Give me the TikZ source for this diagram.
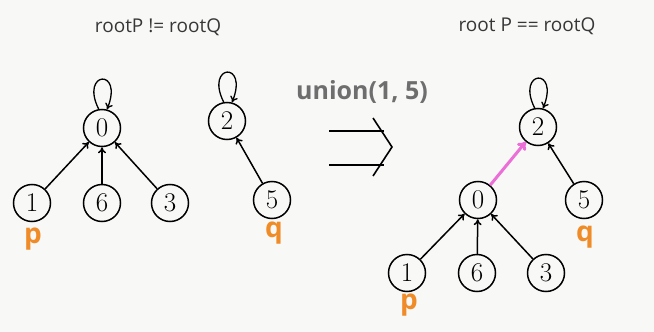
\documentclass[tikz,border=0pt]{standalone}
\usepackage{fontspec}
\newfontfamily\labelfont{Open Sans}
\usetikzlibrary{arrows.meta}
\definecolor{bgpaper}{RGB}{248,248,247}
\definecolor{titlegray}{RGB}{55,55,55}
\definecolor{uniongray}{RGB}{110,110,110}
\definecolor{markorange}{RGB}{240,140,40}
\definecolor{linkpink}{RGB}{236,110,215}
\begin{document}
\begin{tikzpicture}[x=1pt,y=-1pt,
  elem/.style={draw,circle,line width=1.5pt,minimum size=37pt,inner sep=0pt,font=\fontsize{27}{27}\selectfont},
  parent/.style={-{To[length=6pt,width=8pt]},line width=1.5pt},
  selfloop/.style={-{To[length=6pt,width=8pt]},line width=1.3pt},
  marker/.style={text=markorange,font=\labelfont\bfseries\fontsize{28}{28}\selectfont},
  heading/.style={text=titlegray,font=\labelfont\fontsize{19}{20}\selectfont},
  newlink/.style={-{To[length=8pt,width=11pt]},line width=3pt,draw=linkpink}]
\fill[bgpaper] (0,0) rectangle (654,332);
\useasboundingbox (0,0) rectangle (654,332);

% before the union: two separate trees
\node[heading] (t1) at (158,27) {rootP != rootQ};
\node[elem] (a0) at (102,128) {0};
\node[elem] (a1) at (32,203) {1};
\node[elem] (a6) at (102,203) {6};
\node[elem] (a3) at (170,203) {3};
\node[elem] (a2) at (227,121) {2};
\node[elem] (a5) at (272,200) {5};
\node[marker] (ap) at (33,239) {p};
\node[marker] (aq) at (274,233) {q};
\draw[parent] (a1) -- (a0);
\draw[parent] (a6) -- (a0);
\draw[parent] (a3) -- (a0);
\draw[parent] (a5) -- (a2);
\draw[selfloop] (a0.100) .. controls +(-19,-38) and +(17,-42) .. (a0.75);
\draw[selfloop] (a2.100) .. controls +(-19,-38) and +(17,-42) .. (a2.75);

% the union operation
\node[text=uniongray,font=\labelfont\bfseries\fontsize{25}{27}\selectfont] (op) at (362,92) {union(1, 5)};
\coordinate (r1a) at (329,131);
\coordinate (r1b) at (384,131);
\coordinate (r2a) at (329,165);
\coordinate (r2b) at (384,165);
\coordinate (tipa) at (373,118);
\coordinate (tip) at (392,147);
\coordinate (tipb) at (373,176);
\draw[line width=1.6pt] (r1a) -- (r1b);
\draw[line width=1.6pt] (r2a) -- (r2b);
\draw[line width=1.6pt,line join=miter] (tipa) -- (tip) -- (tipb);

% after the union: one tree rooted at 2
\node[heading] (t2) at (527,26) {root P == rootQ};
\node[elem] (b2) at (538,127) {2};
\node[elem] (b0) at (478,200) {0};
\node[elem] (b5) at (584,200) {5};
\node[elem] (b1) at (407,273) {1};
\node[elem] (b6) at (477,273) {6};
\node[elem] (b3) at (546,273) {3};
\node[marker] (bp) at (409,305) {p};
\node[marker] (bq) at (585,237) {q};
\draw[parent] (b1) -- (b0);
\draw[parent] (b6) -- (b0);
\draw[parent] (b3) -- (b0);
\draw[parent] (b5) -- (b2);
\draw[newlink] (b0) -- (b2);
\draw[selfloop] (b2.100) .. controls +(-19,-38) and +(17,-42) .. (b2.75);
\end{tikzpicture}
\end{document}
